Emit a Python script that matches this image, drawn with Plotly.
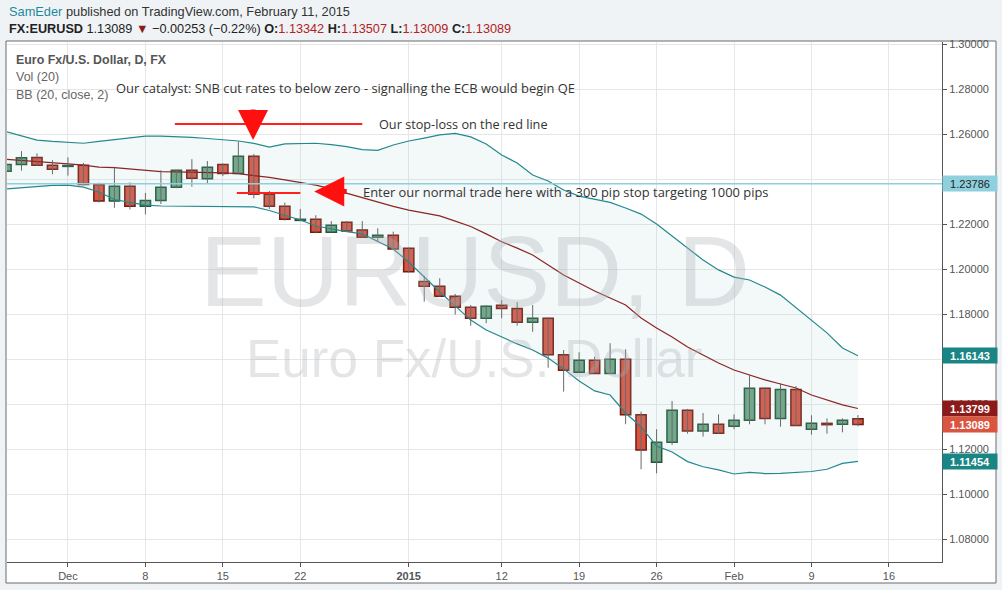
import plotly.graph_objects as go

# ---------------- data ----------------
DATES = [
    "2014-11-25", "2014-11-26", "2014-11-27", "2014-11-28",
    "2014-12-01", "2014-12-02", "2014-12-03", "2014-12-04", "2014-12-05",
    "2014-12-08", "2014-12-09", "2014-12-10", "2014-12-11", "2014-12-12",
    "2014-12-15", "2014-12-16", "2014-12-17", "2014-12-18", "2014-12-19",
    "2014-12-22", "2014-12-23", "2014-12-24", "2014-12-26",
    "2014-12-29", "2014-12-30", "2014-12-31", "2015-01-02",
    "2015-01-05", "2015-01-06", "2015-01-07", "2015-01-08", "2015-01-09",
    "2015-01-12", "2015-01-13", "2015-01-14", "2015-01-15", "2015-01-16",
    "2015-01-19", "2015-01-20", "2015-01-21", "2015-01-22", "2015-01-23",
    "2015-01-26", "2015-01-27", "2015-01-28", "2015-01-29", "2015-01-30",
    "2015-02-02", "2015-02-03", "2015-02-04", "2015-02-05", "2015-02-06",
    "2015-02-09", "2015-02-10", "2015-02-11", "2015-02-12",
]
FUTURE_DATES = ["2015-02-13", "2015-02-16", "2015-02-17", "2015-02-18", "2015-02-19", "2015-02-20"]

OPEN = [1.2434, 1.2465, 1.2496, 1.2461, 1.2456, 1.2461, 1.2376, 1.2302, 1.2368,
        1.2279, 1.2305, 1.2363, 1.2439, 1.2401, 1.2465, 1.2425, 1.2501, 1.2332,
        1.2279, 1.2216, 1.2221, 1.2163, 1.2208, 1.2173, 1.2141, 1.2150, 1.2092,
        1.1945, 1.1923, 1.1879, 1.1830, 1.1781, 1.1839, 1.1825, 1.1763, 1.1781,
        1.1619, 1.1541, 1.1594, 1.1536, 1.1599, 1.1352, 1.1141, 1.1230, 1.1372,
        1.1280, 1.1310, 1.1301, 1.1328, 1.1470, 1.1336, 1.1465, 1.1288, 1.1314,
        1.1310, 1.13342]
HIGH = [1.2472, 1.2524, 1.2514, 1.2484, 1.2496, 1.2471, 1.2384, 1.2450, 1.2385,
        1.2338, 1.2439, 1.2441, 1.2488, 1.2480, 1.2470, 1.2566, 1.2511, 1.2347,
        1.2295, 1.2267, 1.2239, 1.2213, 1.2213, 1.2213, 1.2181, 1.2166, 1.2095,
        1.1969, 1.1959, 1.1889, 1.1840, 1.1840, 1.1862, 1.1853, 1.1840, 1.1785,
        1.1640, 1.1630, 1.1610, 1.1670, 1.1643, 1.1366, 1.1288, 1.1413, 1.1378,
        1.1360, 1.1354, 1.1354, 1.1529, 1.1474, 1.1492, 1.1480, 1.1350, 1.1336,
        1.1336, 1.13507]
LOW = [1.2430, 1.2437, 1.2459, 1.2421, 1.2415, 1.2372, 1.2295, 1.2272, 1.2265,
       1.2243, 1.2289, 1.2359, 1.2366, 1.2379, 1.2413, 1.2423, 1.2314, 1.2267,
       1.2215, 1.2213, 1.2159, 1.2162, 1.2166, 1.2140, 1.2120, 1.2087, 1.1985,
       1.1855, 1.1877, 1.1797, 1.1748, 1.1759, 1.1781, 1.1748, 1.1721, 1.1561,
       1.1455, 1.1538, 1.1534, 1.1534, 1.1310, 1.1110, 1.1092, 1.1218, 1.1268,
       1.1255, 1.1268, 1.1288, 1.1310, 1.1310, 1.1299, 1.1303, 1.1264, 1.1268,
       1.1274, 1.13009]
CLOSE = [1.2465, 1.2495, 1.2461, 1.2443, 1.2460, 1.2376, 1.2302, 1.2368, 1.2279,
         1.2305, 1.2363, 1.2439, 1.2403, 1.2452, 1.2425, 1.2501, 1.2332, 1.2279,
         1.2221, 1.2221, 1.2163, 1.2194, 1.2169, 1.2141, 1.2150, 1.2089, 1.1988,
         1.1923, 1.1879, 1.1830, 1.1781, 1.1834, 1.1825, 1.1763, 1.1781, 1.1619,
         1.1550, 1.1594, 1.1536, 1.1599, 1.1352, 1.1196, 1.1230, 1.1372, 1.1280,
         1.1310, 1.1270, 1.1328, 1.1470, 1.1336, 1.1465, 1.1305, 1.1314, 1.1308,
         1.1328, 1.13089]

BB_UPPER = [1.2611, 1.2593, 1.2573, 1.2567, 1.2562, 1.2559, 1.2567, 1.2576, 1.2584,
            1.2591, 1.2591, 1.2589, 1.2585, 1.2580, 1.2576, 1.2569, 1.2558, 1.2542,
            1.2556, 1.2559, 1.2559, 1.2553, 1.2544, 1.2531, 1.2527, 1.2551, 1.2569,
            1.2582, 1.2596, 1.2603, 1.2587, 1.2556, 1.2507, 1.2471, 1.2418, 1.2391,
            1.2351, 1.2324, 1.2311, 1.2296, 1.2271, 1.2244, 1.2200, 1.2147, 1.2093,
            1.2040, 1.1996, 1.1964, 1.1951, 1.1920, 1.1884, 1.1827, 1.1769, 1.1716,
            1.1649, 1.16143]
BB_BASIS = [1.2488, 1.2482, 1.2477, 1.2471, 1.2467, 1.2462, 1.2453, 1.2451, 1.2444,
            1.2438, 1.2433, 1.2432, 1.2431, 1.2428, 1.2427, 1.2424, 1.2416, 1.2407,
            1.2396, 1.2384, 1.2373, 1.2356, 1.2336, 1.2318, 1.2298, 1.2278, 1.2262,
            1.2249, 1.2236, 1.2213, 1.2189, 1.2156, 1.2121, 1.2093, 1.2062, 1.2018,
            1.1973, 1.1938, 1.1902, 1.1871, 1.1840, 1.1782, 1.1738, 1.1698, 1.1653,
            1.1618, 1.1582, 1.1551, 1.1529, 1.1507, 1.1489, 1.1471, 1.1440, 1.1418,
            1.1396, 1.13799]
BB_LOWER = [1.2356, 1.2362, 1.2369, 1.2372, 1.2373, 1.2364, 1.2342, 1.2309, 1.2296,
            1.2284, 1.2280, 1.2279, 1.2279, 1.2279, 1.2278, 1.2277, 1.2276, 1.2260,
            1.2238, 1.2218, 1.2191, 1.2178, 1.2166, 1.2156, 1.2124, 1.2089, 1.2031,
            1.1964, 1.1898, 1.1836, 1.1773, 1.1729, 1.1698, 1.1667, 1.1640, 1.1604,
            1.1556, 1.1502, 1.1458, 1.1440, 1.1360, 1.1298, 1.1213, 1.1187, 1.1144,
            1.1121, 1.1107, 1.1089, 1.1096, 1.1091, 1.1092, 1.1095, 1.1100, 1.1110,
            1.1136, 1.11454]

TICK_DATES = ["2014-12-01", "2014-12-08", "2014-12-15", "2014-12-22", "2015-01-02",
              "2015-01-12", "2015-01-19", "2015-01-26", "2015-02-02", "2015-02-09", "2015-02-16"]
TICK_TEXT = ["Dec", "8", "15", "22", "<b>2015</b>", "12", "19", "26", "Feb", "9", "16"]
Y_TICKS = [1.08, 1.10, 1.12, 1.14, 1.16, 1.18, 1.20, 1.22, 1.24, 1.26, 1.28, 1.30]
Y_TICKS_HIDDEN = [1.24, 1.16]   # fully covered by the price tags on the right

H_LEVEL = 1.23786          # user-drawn horizontal line
STOP_LEVEL = 1.2644        # stop-loss red line
STOP_SPAN = (10.9, 23.0)   # in bar units
ENTRY_LEVEL = 1.2338       # entry red line
ENTRY_SPAN = (14.9, 19.0)

# ---------------- helpers ----------------
AXIS_DATES = DATES + FUTURE_DATES
X = list(range(len(DATES)))
TICK_VALS = [AXIS_DATES.index(d) for d in TICK_DATES]

W, H = 1002, 590
ML, MR, MT, MB = 7, 60, 42, 28
PW, PH = W - ML - MR, H - MT - MB


def px(xp):
    return (xp - ML) / PW


def py(yp):
    return (H - MB - yp) / PH


UP_FILL, UP_LINE = "#6ba583", "#225437"
DN_FILL, DN_LINE = "#d75442", "#6f1d12"
TEAL = "#23898e"
MAROON = "#8b2525"

fig = go.Figure()

# Bollinger fill
fig.add_trace(go.Scatter(x=X, y=BB_UPPER, mode="lines", line=dict(color=TEAL, width=1.2),
                         hoverinfo="skip", showlegend=False))
fig.add_trace(go.Scatter(x=X, y=BB_LOWER, mode="lines", line=dict(color=TEAL, width=1.2),
                         fill="tonexty", fillcolor="rgba(160,200,212,0.13)",
                         hoverinfo="skip", showlegend=False))
fig.add_trace(go.Scatter(x=X, y=BB_BASIS, mode="lines", line=dict(color=MAROON, width=1.2),
                         hoverinfo="skip", showlegend=False))

# wicks
wx, wy = [], []
for i in X:
    wx += [i, i, None]
    wy += [LOW[i], HIGH[i], None]
fig.add_trace(go.Scatter(x=wx, y=wy, mode="lines", line=dict(color="#6a6a6a", width=1),
                         hoverinfo="skip", showlegend=False))

# bodies
for up in (True, False):
    idx = [i for i in X if (CLOSE[i] >= OPEN[i]) == up]
    base = [min(OPEN[i], CLOSE[i]) for i in idx]
    hgt = [max(abs(CLOSE[i] - OPEN[i]), 0.00012) for i in idx]
    fig.add_trace(go.Bar(
        x=idx, y=hgt, base=base, width=0.66,
        marker=dict(color=UP_FILL if up else DN_FILL,
                    line=dict(color=UP_LINE if up else DN_LINE, width=1.5)),
        hoverinfo="skip", showlegend=False))

shapes = []
# panel
shapes.append(dict(type="rect", xref="paper", yref="paper", layer="below",
                   x0=px(6), x1=px(996), y0=py(583), y1=py(41),
                   fillcolor="white", line=dict(color="#6b6b6b", width=1)))
# horizontal level
shapes.append(dict(type="line", xref="paper", yref="y", x0=0, x1=1, y0=H_LEVEL, y1=H_LEVEL,
                   line=dict(color="#8dcfdc", width=1.5)))
# stop line and entry line
shapes.append(dict(type="line", xref="x", yref="y", x0=STOP_SPAN[0], x1=STOP_SPAN[1],
                   y0=STOP_LEVEL, y1=STOP_LEVEL, line=dict(color="#ff2020", width=2)))
shapes.append(dict(type="line", xref="x", yref="y", x0=ENTRY_SPAN[0], x1=ENTRY_SPAN[1],
                   y0=ENTRY_LEVEL, y1=ENTRY_LEVEL, line=dict(color="#ff2020", width=2)))

ann = []
HF = "Liberation Sans, Arial"
# header
ann.append(dict(xref="paper", yref="paper", x=px(7), y=py(12), xanchor="left", yanchor="middle",
                showarrow=False, align="left",
                text="<span style='color:#1d8a9b'>SamEder</span> published on TradingView.com, February 11, 2015",
                font=dict(family=HF, size=12.8, color="#333")))
ann.append(dict(xref="paper", yref="paper", x=px(7), y=py(29), xanchor="left", yanchor="middle",
                showarrow=False, align="left",
                text=("<b>FX:EURUSD</b> 1.13089 <span style='color:#8b1a1a'>▼</span> −0.00253 (−0.22%) "
                      "<b>O:</b><span style='color:#b22222'>1.13342</span> "
                      "<b>H:</b><span style='color:#b22222'>1.13507</span> "
                      "<b>L:</b><span style='color:#b22222'>1.13009</span> "
                      "<b>C:</b><span style='color:#b22222'>1.13089</span>"),
                font=dict(family=HF, size=12.7, color="#222")))
# legend texts
ann.append(dict(xref="paper", yref="paper", x=px(14), y=py(60), xanchor="left", yanchor="middle",
                showarrow=False, text="<b>Euro Fx/U.S. Dollar, D, FX</b>",
                font=dict(family=HF, size=12.4, color="#555")))
ann.append(dict(xref="paper", yref="paper", x=px(14), y=py(77), xanchor="left", yanchor="middle",
                showarrow=False, text="Vol (20)", font=dict(family=HF, size=12.5, color="#666")))
ann.append(dict(xref="paper", yref="paper", x=px(14), y=py(95), xanchor="left", yanchor="middle",
                showarrow=False, text="BB (20, close, 2)", font=dict(family=HF, size=12.5, color="#666")))
# watermark
ann.append(dict(xref="paper", yref="paper", x=px(475), y=py(271), xanchor="center", yanchor="middle",
                showarrow=False, text="EURUSD, D",
                font=dict(family="Liberation Sans, Arial", size=100, color="rgba(170,176,180,0.33)")))
ann.append(dict(xref="paper", yref="paper", x=px(475), y=py(358), xanchor="center", yanchor="middle",
                showarrow=False, text="Euro Fx/U.S. Dollar",
                font=dict(family="Liberation Sans, Arial", size=53, color="rgba(170,176,180,0.33)")))
# comments
CF = "Open Sans, DejaVu Sans"
ann.append(dict(xref="paper", yref="paper", x=px(114), y=py(88), xanchor="left", yanchor="middle",
                showarrow=False,
                text="Our catalyst: SNB cut rates to below zero - signalling the ECB would begin QE",
                font=dict(family=CF, size=12.9, color="#333")))
ann.append(dict(xref="paper", yref="paper", x=px(377), y=py(124), xanchor="left", yanchor="middle",
                showarrow=False, text="Our stop-loss on the red line",
                font=dict(family=CF, size=12.7, color="#333")))
ann.append(dict(xref="paper", yref="paper", x=px(361), y=py(192), xanchor="left", yanchor="middle",
                showarrow=False,
                text="Enter our normal trade here with a 300 pip stop targeting 1000 pips",
                font=dict(family=CF, size=12.9, color="#333")))
# arrows
ann.append(dict(x=15.95, y=1.2573, xref="x", yref="y", ax=0, ay=-32, showarrow=True,
                arrowhead=2, arrowsize=1.2, arrowwidth=5, arrowcolor="#ff1010", text=""))
ann.append(dict(x=19.9, y=1.2344, xref="x", yref="y", ax=34, ay=0, showarrow=True,
                arrowhead=2, arrowsize=1.2, arrowwidth=5, arrowcolor="#ff1010", text=""))

# right-side price labels
for val, bg, fg in [(1.23786, "#8ed0dd", "#222"), (BB_UPPER[-1], "#198585", "white"),
                    (BB_BASIS[-1], "#8b1a1a", "white"), (CLOSE[-1], "#d9553f", "white"),
                    (BB_LOWER[-1], "#198585", "white")]:
    ann.append(dict(xref="paper", yref="y", x=1, y=val, xanchor="left", yanchor="middle",
                    xshift=0, showarrow=False, text=f"<b>{val:.5f}</b>" if fg == "white" else f"{val:.5f}",
                    bgcolor=bg, width=54, height=15, borderpad=0,
                    align="center", font=dict(family="Liberation Sans, Arial", size=11, color=fg)))

fig.update_layout(
    width=W, height=H,
    margin=dict(l=ML, r=MR, t=MT, b=MB, autoexpand=False),
    paper_bgcolor="#f0f3f6", plot_bgcolor="white",
    bargap=0, barmode="overlay", hovermode=False,
    shapes=shapes, annotations=ann,
    xaxis=dict(range=[(7 - 6) / 15.49, (942 - 6) / 15.49], tickvals=TICK_VALS, ticktext=TICK_TEXT,
               showgrid=True, gridcolor="#e6e6e6", gridwidth=1, zeroline=False,
               showline=True, linecolor="#555", linewidth=1, ticks="outside", ticklen=4,
               tickcolor="#555", tickfont=dict(family="Liberation Sans, Arial", size=11, color="#555"),
               fixedrange=True),
    yaxis=dict(side="right", range=[1.06978, 1.30089], tickvals=Y_TICKS,
               ticktext=["" if v in Y_TICKS_HIDDEN else f"{v:.5f}" for v in Y_TICKS],
               showgrid=True, gridcolor="#e6e6e6", gridwidth=1, zeroline=False,
               showline=True, linecolor="#555", linewidth=1, ticks="outside", ticklen=4,
               tickcolor="#555", tickfont=dict(family="Liberation Sans, Arial", size=11, color="#555"),
               fixedrange=True),
)

fig.write_html("out.html", config={"displayModeBar": False, "staticPlot": True},
               post_script="document.body.style.margin='0';document.body.style.overflow='hidden';")
